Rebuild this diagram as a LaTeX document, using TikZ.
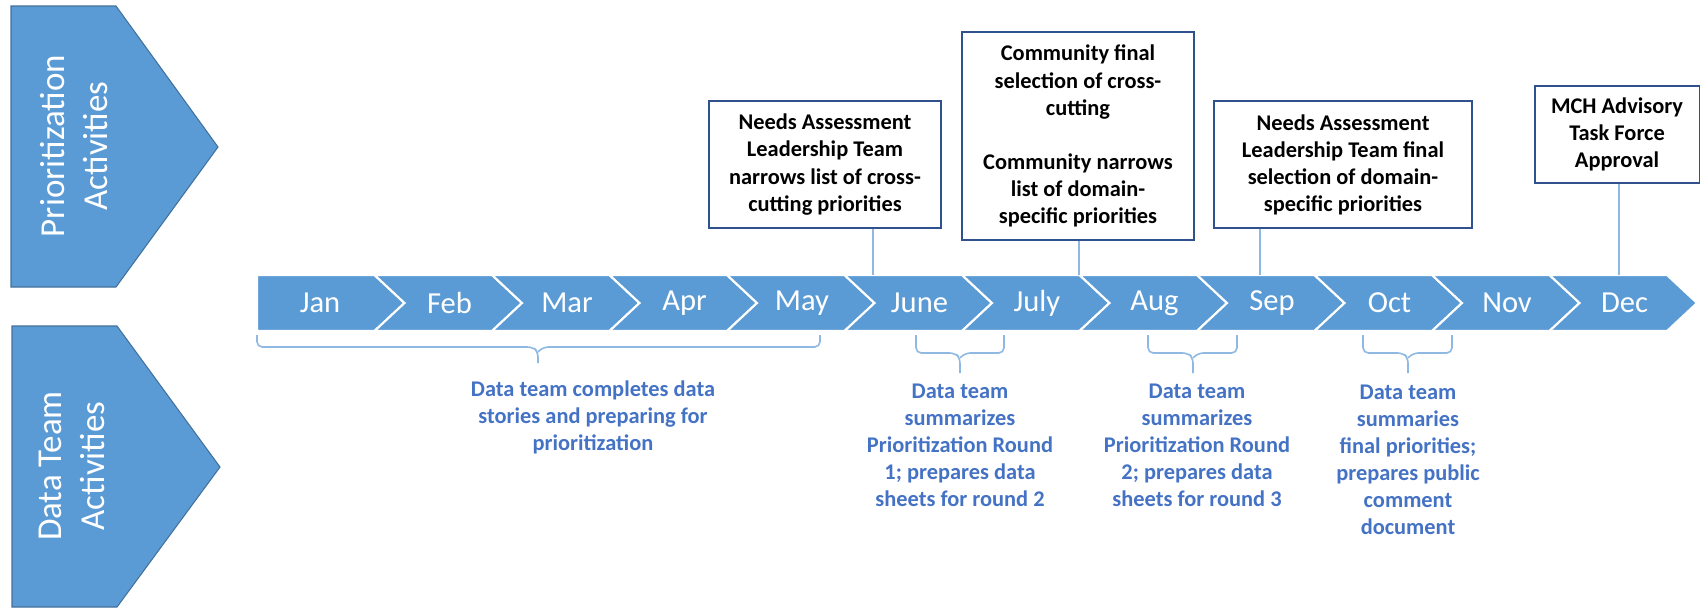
\documentclass[tikz,border=0pt]{standalone}
\usepackage{fontspec}
\setmainfont{Carlito}
\usepackage{tikz}
\definecolor{tlblue}{HTML}{5B9BD5}
\definecolor{tledge}{HTML}{41719C}
\definecolor{boxedge}{HTML}{2F528F}
\definecolor{dtblue}{HTML}{4472C4}
\definecolor{linkblue}{HTML}{8FB8E3}

\begin{document}
\begin{tikzpicture}[x=0.02cm,y=-0.02cm]
	\tikzstyle{side}=[fill=tlblue, draw=tledge, line width=0.6pt]
	\tikzstyle{sidetext}=[text=white, rotate=90, align=center, font=\fontsize{19.9}{24.5}\selectfont]
	\tikzstyle{month}=[fill=tlblue, draw=white, line width=1.2pt]
	\tikzstyle{monthtext}=[text=white, font=\fontsize{17.4}{20}\selectfont]
	\tikzstyle{taskbox}=[draw=boxedge, fill=white, line width=1.1pt, align=center, inner sep=0pt, font=\fontsize{12.75}{15.4}\selectfont\bfseries]
	\tikzstyle{link}=[draw=linkblue, line width=0.7pt]
	\tikzstyle{brace}=[draw=linkblue, line width=0.9pt, rounded corners=3pt]
	\tikzstyle{datatext}=[text=dtblue, align=center, font=\fontsize{12.75}{15.4}\selectfont\bfseries]
	\useasboundingbox (0,0) rectangle (1702,610);
	% row headers
	\draw [side] (11,6) -- (116,6) -- (218,147) -- (116,287) -- (11,287) -- cycle;
	\node [sidetext] (prio) at (74,146) {Prioritization\\Activities};
	\draw [side] (12,326) -- (117,326) -- (220,467) -- (117,607) -- (12,607) -- cycle;
	\node [sidetext] (data) at (72,466) {Data Team\\Activities};
	% months
	\draw [month] (257,275) -- (374.5,275) -- (404.5,303) -- (374.5,331) -- (257,331) -- cycle;
	\node [monthtext] (jan) at (320,303) {Jan};
	\draw [month] (374.5,275) -- (492,275) -- (522,303) -- (492,331) -- (374.5,331) -- (404.5,303) -- cycle;
	\node [monthtext] (feb) at (449.5,303) {Feb};
	\draw [month] (492,275) -- (609.5,275) -- (639.5,303) -- (609.5,331) -- (492,331) -- (522,303) -- cycle;
	\node [monthtext] (mar) at (567,303) {Mar};
	\draw [month] (609.5,275) -- (727,275) -- (757,303) -- (727,331) -- (609.5,331) -- (639.5,303) -- cycle;
	\node [monthtext] (apr) at (684.5,303) {Apr};
	\draw [month] (727,275) -- (844.5,275) -- (874.5,303) -- (844.5,331) -- (727,331) -- (757,303) -- cycle;
	\node [monthtext] (may) at (802,303) {May};
	\draw [month] (844.5,275) -- (962,275) -- (992,303) -- (962,331) -- (844.5,331) -- (874.5,303) -- cycle;
	\node [monthtext] (jun) at (919.5,303) {June};
	\draw [month] (962,275) -- (1079.5,275) -- (1109.5,303) -- (1079.5,331) -- (962,331) -- (992,303) -- cycle;
	\node [monthtext] (jul) at (1037,303) {July};
	\draw [month] (1079.5,275) -- (1197,275) -- (1227,303) -- (1197,331) -- (1079.5,331) -- (1109.5,303) -- cycle;
	\node [monthtext] (aug) at (1154.5,303) {Aug};
	\draw [month] (1197,275) -- (1314.5,275) -- (1344.5,303) -- (1314.5,331) -- (1197,331) -- (1227,303) -- cycle;
	\node [monthtext] (sep) at (1272,303) {Sep};
	\draw [month] (1314.5,275) -- (1432,275) -- (1462,303) -- (1432,331) -- (1314.5,331) -- (1344.5,303) -- cycle;
	\node [monthtext] (oct) at (1389.5,303) {Oct};
	\draw [month] (1432,275) -- (1549.5,275) -- (1579.5,303) -- (1549.5,331) -- (1432,331) -- (1462,303) -- cycle;
	\node [monthtext] (nov) at (1507,303) {Nov};
	\draw [month] (1549.5,275) -- (1667,275) -- (1697,303) -- (1667,331) -- (1549.5,331) -- (1579.5,303) -- cycle;
	\node [monthtext] (dec) at (1624.5,303) {Dec};
	% prioritization boxes
	\node [taskbox, minimum width=4.64cm, minimum height=2.54cm] (nalt1) at (825,164.5) {Needs Assessment\\Leadership Team\\narrows list of cross-\\cutting priorities};
	\node [taskbox, minimum width=4.64cm, minimum height=4.16cm] (comm) at (1078,136) {Community final\\selection of cross-\\cutting\\[15.4pt]Community narrows\\list of domain-\\specific priorities};
	\node [taskbox, minimum width=5.16cm, minimum height=2.54cm] (nalt2) at (1343,164.5) {Needs Assessment\\Leadership Team final\\selection of domain-\\specific priorities};
	\node [taskbox, minimum width=3.30cm, minimum height=1.94cm] (mch) at (1617,134.5) {MCH Advisory\\Task Force\\Approval};
	\coordinate (t1) at (873,275);
	\coordinate (t2) at (1079,275);
	\coordinate (t3) at (1260,275);
	\coordinate (t4) at (1619,275);
	\draw [link] (nalt1.south -| t1) -- (t1);
	\draw [link] (comm.south -| t2) -- (t2);
	\draw [link] (nalt2.south -| t3) -- (t3);
	\draw [link] (mch.south -| t4) -- (t4);
	% data team brackets
	\draw [brace] (257,335) -- (257,347) -- (533,347) -- (538,352) -- (538,363);
	\draw [brace] (820,335) -- (820,347) -- (543,347) -- (538,352);
	\draw [brace] (916,335) -- (916,353) -- (955,353) -- (960,358) -- (960,373);
	\draw [brace] (1004,335) -- (1004,353) -- (965,353) -- (960,358);
	\draw [brace] (1148,335) -- (1148,353) -- (1188,353) -- (1193,358) -- (1193,373);
	\draw [brace] (1237,335) -- (1237,353) -- (1198,353) -- (1193,358);
	\draw [brace] (1363,335) -- (1363,353) -- (1403,353) -- (1408,358) -- (1408,373);
	\draw [brace] (1452,335) -- (1452,353) -- (1413,353) -- (1408,358);
	% data team texts
	\node [datatext] (dt1) at (593,417) {Data team completes data\\stories and preparing for\\prioritization};
	\node [datatext] (dt2) at (960,445.5) {Data team\\summarizes\\Prioritization Round\\1; prepares data\\sheets for round 2};
	\node [datatext] (dt3) at (1197,445.5) {Data team\\summarizes\\Prioritization Round\\2; prepares data\\sheets for round 3};
	\node [datatext] (dt4) at (1408,459.5) {Data team\\summaries\\final priorities;\\prepares public\\comment\\document};
\end{tikzpicture}
\end{document}
